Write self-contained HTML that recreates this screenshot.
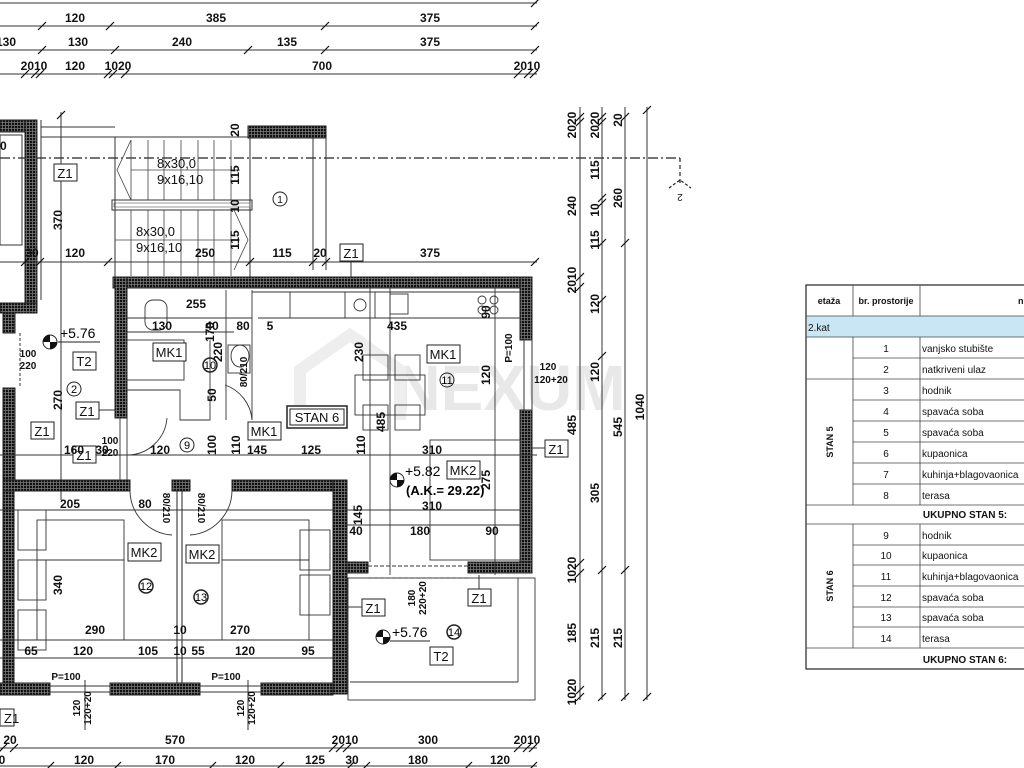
<!DOCTYPE html>
<html><head><meta charset="utf-8"><style>
html,body{margin:0;padding:0;background:#fff;width:1024px;height:768px;overflow:hidden}
svg{display:block}
.d{font-family:"Liberation Sans Narrow","Liberation Sans",sans-serif;font-weight:bold;font-size:12px;fill:#111}
.t{font-family:"Liberation Sans",sans-serif;font-size:13px;fill:#111}
.tb{font-family:"Liberation Sans",sans-serif;font-size:10px;fill:#111}
</style></head><body>
<svg width="1024" height="768" viewBox="0 0 1024 768" xmlns="http://www.w3.org/2000/svg">
<defs>
<pattern id="h" width="3" height="3" patternUnits="userSpaceOnUse">
<rect width="3" height="3" fill="#777"/><rect width="2.2" height="2.2" fill="#111"/>
</pattern>
<g id="tk"><line x1="-4" y1="4" x2="4" y2="-4" stroke="#111" stroke-width="1.2"/></g>
</defs>

<!-- watermark -->
<text x="510" y="410" font-family="Liberation Sans" font-weight="bold" font-size="64" fill="#e8e8e8" text-anchor="middle">NEXUM</text>
<path d="M300 420 L300 370 L350 335 L400 370 L400 420" fill="none" stroke="#eee" stroke-width="12"/>

<!-- top dimension lines -->
<g stroke="#333" stroke-width="1">
<line x1="0" y1="3" x2="537" y2="3"/>
<line x1="0" y1="26" x2="537" y2="26"/>
<line x1="0" y1="50" x2="537" y2="50"/>
<line x1="0" y1="74" x2="537" y2="74"/>
</g>
<use href="#tk" x="535" y="3"/>
<use href="#tk" x="42" y="26"/><use href="#tk" x="110" y="26"/><use href="#tk" x="325" y="26"/><use href="#tk" x="535" y="26"/>
<use href="#tk" x="42" y="50"/><use href="#tk" x="115" y="50"/><use href="#tk" x="248" y="50"/><use href="#tk" x="325" y="50"/><use href="#tk" x="535" y="50"/>
<use href="#tk" x="25" y="74"/><use href="#tk" x="35" y="74"/><use href="#tk" x="40" y="74"/><use href="#tk" x="108" y="74"/><use href="#tk" x="113" y="74"/><use href="#tk" x="125" y="74"/><use href="#tk" x="518" y="74"/><use href="#tk" x="528" y="74"/><use href="#tk" x="534" y="74"/>
<text class="d" x="75" y="22" text-anchor="middle">120</text>
<text class="d" x="216" y="22" text-anchor="middle">385</text>
<text class="d" x="430" y="22" text-anchor="middle">375</text>
<text class="d" x="6" y="46" text-anchor="middle">130</text>
<text class="d" x="78" y="46" text-anchor="middle">130</text>
<text class="d" x="182" y="46" text-anchor="middle">240</text>
<text class="d" x="287" y="46" text-anchor="middle">135</text>
<text class="d" x="430" y="46" text-anchor="middle">375</text>
<text class="d" x="34" y="70" text-anchor="middle">2010</text>
<text class="d" x="75" y="70" text-anchor="middle">120</text>
<text class="d" x="118" y="70" text-anchor="middle">1020</text>
<text class="d" x="322" y="70" text-anchor="middle">700</text>
<text class="d" x="527" y="70" text-anchor="middle">2010</text>

<!-- section line -->
<line x1="0" y1="158" x2="680" y2="158" stroke="#222" stroke-width="1.2" stroke-dasharray="10,3,2,3"/>
<line x1="680" y1="158" x2="680" y2="185" stroke="#222" stroke-width="1.2" stroke-dasharray="4,3"/>
<path d="M669 188 L680 180 L691 188" fill="none" stroke="#222" stroke-width="1.2" stroke-dasharray="3,2"/>
<text class="tb" x="680" y="202" text-anchor="middle" transform="rotate(180 680 198)">2</text>

<!-- left building upper -->
<rect x="0" y="120" width="37" height="12" fill="url(#h)" stroke="#222"/>
<rect x="25" y="120" width="12" height="193" fill="url(#h)" stroke="#222"/>
<rect x="0" y="303" width="37" height="10" fill="url(#h)" stroke="#222"/>
<rect x="3" y="313" width="12" height="20" fill="url(#h)" stroke="#222"/>
<rect x="3" y="388" width="12" height="102" fill="url(#h)" stroke="#222"/>
<rect x="0" y="135" width="22" height="110" fill="none" stroke="#333"/>
<text class="d" x="0" y="150">0</text>
<line x1="37" y1="120" x2="37" y2="300" stroke="#333"/>
<line x1="41" y1="120" x2="41" y2="300" stroke="#333"/>
<line x1="41" y1="127" x2="115" y2="127" stroke="#333"/>
<line x1="41" y1="137" x2="115" y2="137" stroke="#333"/>
<line x1="20" y1="333" x2="20" y2="388" stroke="#333" stroke-dasharray="3,2"/>

<!-- stairs -->
<rect x="248" y="126" width="78" height="12" fill="url(#h)" stroke="#222"/>
<line x1="115" y1="137" x2="250" y2="137" stroke="#333"/>
<line x1="115" y1="137" x2="115" y2="280" stroke="#333"/>
<line x1="250" y1="137" x2="250" y2="280" stroke="#333"/>
<line x1="313" y1="138" x2="313" y2="270" stroke="#333"/>
<line x1="326" y1="138" x2="326" y2="270" stroke="#333"/>
<g stroke="#444" stroke-width="0.8">
<line x1="131" y1="140" x2="131" y2="200"/><line x1="148" y1="140" x2="148" y2="200"/><line x1="164" y1="140" x2="164" y2="200"/><line x1="181" y1="140" x2="181" y2="200"/><line x1="198" y1="140" x2="198" y2="200"/><line x1="214" y1="140" x2="214" y2="200"/><line x1="231" y1="140" x2="231" y2="200"/>
<line x1="131" y1="210" x2="131" y2="276"/><line x1="148" y1="210" x2="148" y2="276"/><line x1="164" y1="210" x2="164" y2="276"/><line x1="181" y1="210" x2="181" y2="276"/><line x1="198" y1="210" x2="198" y2="276"/><line x1="214" y1="210" x2="214" y2="276"/><line x1="231" y1="210" x2="231" y2="276"/>
<line x1="131" y1="170" x2="240" y2="170"/><line x1="115" y1="240" x2="240" y2="240"/>
<path d="M131 140 L117 170 L131 200" fill="none"/>
<path d="M234 210 L248 240 L234 270" fill="none"/>
</g>
<rect x="112" y="200" width="140" height="10" fill="none" stroke="#333"/>
<rect x="114" y="203" width="136" height="4" fill="none" stroke="#555" stroke-width="0.6"/>
<text class="t" x="157" y="168" fill="#333">8x30,0</text>
<text class="t" x="157" y="184">9x16,10</text>
<text class="t" x="136" y="236">8x30,0</text>
<text class="t" x="136" y="252">9x16,10</text>
<circle cx="280" cy="199" r="7" fill="none" stroke="#222"/><text class="tb" x="280" y="203" text-anchor="middle" font-size="11">1</text>
<text class="d" x="239" y="175" transform="rotate(-90 239 175)" text-anchor="middle">115</text>
<text class="d" x="239" y="240" transform="rotate(-90 239 240)" text-anchor="middle">115</text>
<text class="d" x="239" y="130" transform="rotate(-90 239 130)" text-anchor="middle">20</text>
<text class="d" x="239" y="206" transform="rotate(-90 239 206)" text-anchor="middle">10</text>
<line x1="61" y1="112" x2="61" y2="500" stroke="#333"/>
<use href="#tk" x="61" y="115"/>
<text class="d" x="62" y="220" transform="rotate(-90 62 220)" text-anchor="middle">370</text>
<!-- dim line y 262 -->
<line x1="0" y1="262" x2="537" y2="262" stroke="#333"/>
<use href="#tk" x="25" y="262"/><use href="#tk" x="40" y="262"/><use href="#tk" x="108" y="262"/><use href="#tk" x="250" y="262"/><use href="#tk" x="313" y="262"/><use href="#tk" x="326" y="262"/><use href="#tk" x="535" y="262"/>
<text class="d" x="32" y="257" text-anchor="middle">30</text>
<text class="d" x="75" y="257" text-anchor="middle">120</text>
<text class="d" x="205" y="257" text-anchor="middle">250</text>
<text class="d" x="282" y="257" text-anchor="middle">115</text>
<text class="d" x="320" y="257" text-anchor="middle">20</text>
<text class="d" x="430" y="257" text-anchor="middle">375</text>
<rect x="340" y="244" width="23" height="17" fill="#fff" stroke="#222"/><text class="t" x="351" y="258" text-anchor="middle">Z1</text>
<line x1="351" y1="261" x2="351" y2="277" stroke="#333"/>
<rect x="54" y="164" width="23" height="17" fill="#fff" stroke="#222"/><text class="t" x="65" y="178" text-anchor="middle">Z1</text>

<!-- main walls -->
<rect x="113" y="277" width="419" height="11" fill="url(#h)" stroke="#222"/>
<rect x="115" y="277" width="12" height="141" fill="url(#h)" stroke="#222"/>
<rect x="520" y="277" width="12" height="63" fill="url(#h)" stroke="#222"/>
<rect x="520" y="410" width="12" height="163" fill="url(#h)" stroke="#222"/>
<rect x="524" y="340" width="8" height="70" fill="none" stroke="#333"/>
<rect x="345" y="562" width="23" height="11" fill="url(#h)" stroke="#222"/>
<rect x="468" y="562" width="64" height="11" fill="url(#h)" stroke="#222"/>
<rect x="3" y="480" width="127" height="11" fill="url(#h)" stroke="#222"/>
<rect x="172" y="480" width="18" height="11" fill="url(#h)" stroke="#222"/>
<rect x="232" y="480" width="115" height="11" fill="url(#h)" stroke="#222"/>
<rect x="3" y="491" width="11" height="204" fill="url(#h)" stroke="#222"/>
<rect x="333" y="480" width="14" height="214" fill="url(#h)" stroke="#222"/>
<rect x="0" y="683" width="50" height="12" fill="url(#h)" stroke="#222"/>
<rect x="110" y="683" width="90" height="12" fill="url(#h)" stroke="#222"/>
<rect x="261" y="683" width="72" height="12" fill="url(#h)" stroke="#222"/>
<rect x="50" y="686" width="60" height="6" fill="none" stroke="#333"/>
<rect x="200" y="686" width="61" height="6" fill="none" stroke="#333"/>
<line x1="177" y1="491" x2="177" y2="683" stroke="#222"/>
<line x1="182" y1="491" x2="182" y2="683" stroke="#222"/>

<!-- interior lines -->
<g stroke="#333" stroke-width="0.9" fill="none">
<line x1="127" y1="332" x2="234" y2="332"/>
<rect x="127" y="340" width="57" height="40"/>
<path d="M127 390 L180 390 L180 420 L210 420 L210 340"/>
<line x1="226" y1="290" x2="226" y2="420"/>
<line x1="252" y1="290" x2="252" y2="420"/>
<rect x="228" y="345" width="22" height="28"/>
<ellipse cx="240" cy="356" rx="9" ry="11"/>
<path d="M252 420 A40 40 0 0 0 225 385"/>
<line x1="252" y1="292" x2="520" y2="292"/>
<line x1="258" y1="318" x2="520" y2="318"/>
<line x1="290" y1="292" x2="290" y2="318"/><line x1="345" y1="292" x2="345" y2="318"/><line x1="375" y1="292" x2="375" y2="318"/>
<circle cx="360" cy="305" r="6"/>
<rect x="390" y="294" width="18" height="20"/>
<circle cx="482" cy="300" r="4"/><circle cx="494" cy="300" r="4"/><circle cx="482" cy="310" r="4"/><circle cx="494" cy="310" r="4"/>
<rect x="145" y="300" width="22" height="30" rx="8"/>
<rect x="363" y="355" width="25" height="25"/><rect x="395" y="355" width="25" height="25"/>
<rect x="363" y="405" width="25" height="25"/><rect x="395" y="405" width="25" height="25"/>
<rect x="355" y="375" width="70" height="40"/>
<line x1="370" y1="288" x2="370" y2="562"/>
<line x1="390" y1="288" x2="390" y2="575"/>
<line x1="495" y1="288" x2="495" y2="575"/>
<rect x="430" y="440" width="90" height="120"/>
<path d="M127 418 L127 480 M120 418 L120 480"/>
<path d="M127 455 A40 40 0 0 0 167 418"/>
<path d="M130 491 A45 45 0 0 0 172 535"/>
<path d="M232 491 A45 45 0 0 1 190 535"/>
<rect x="18" y="510" width="28" height="40"/><rect x="18" y="560" width="28" height="40"/>
<rect x="37" y="560" width="87" height="80"/>
<rect x="37" y="520" width="87" height="40"/>
<rect x="222" y="560" width="87" height="80"/>
<rect x="222" y="520" width="87" height="40"/>
<rect x="300" y="530" width="30" height="40"/><rect x="300" y="575" width="30" height="40"/>
<rect x="18" y="610" width="28" height="40"/>
<rect x="348" y="578" width="187" height="122"/>
<line x1="350" y1="682" x2="518" y2="682"/>
<line x1="518" y1="578" x2="518" y2="682"/>
<line x1="368" y1="578" x2="468" y2="578" stroke-dasharray="4,2"/>
<line x1="368" y1="566" x2="468" y2="566" stroke-dasharray="4,2"/>
</g>
<line x1="0" y1="455" x2="537" y2="455" stroke="#333"/>
<line x1="0" y1="640" x2="335" y2="640" stroke="#333"/>
<line x1="0" y1="658" x2="335" y2="658" stroke="#333"/>
<line x1="127" y1="318" x2="252" y2="318" stroke="#333"/>
<line x1="345" y1="510" x2="520" y2="510" stroke="#333"/>
<line x1="345" y1="525" x2="520" y2="525" stroke="#333"/>
<line x1="0" y1="510" x2="335" y2="510" stroke="#333"/>

<!-- room labels -->
<g>
<rect x="153" y="343" width="33" height="18" fill="#fff" stroke="#222"/><text class="t" x="169" y="357" text-anchor="middle">MK1</text>
<rect x="427" y="345" width="33" height="18" fill="#fff" stroke="#222"/><text class="t" x="443" y="359" text-anchor="middle">MK1</text>
<rect x="248" y="422" width="33" height="18" fill="#fff" stroke="#222"/><text class="t" x="264" y="436" text-anchor="middle">MK1</text>
<rect x="287" y="406" width="60" height="22" fill="#fff" stroke="#222" stroke-width="1.5"/><rect x="290" y="409" width="54" height="16" fill="none" stroke="#222"/><text class="t" x="317" y="422" text-anchor="middle">STAN 6</text>
<rect x="447" y="461" width="33" height="18" fill="#fff" stroke="#222"/><text class="t" x="463" y="475" text-anchor="middle">MK2</text>
<rect x="128" y="543" width="33" height="18" fill="#fff" stroke="#222"/><text class="t" x="144" y="557" text-anchor="middle">MK2</text>
<rect x="186" y="545" width="33" height="18" fill="#fff" stroke="#222"/><text class="t" x="202" y="559" text-anchor="middle">MK2</text>
<rect x="73" y="352" width="23" height="18" fill="#fff" stroke="#222"/><text class="t" x="84" y="366" text-anchor="middle">T2</text>
<rect x="430" y="647" width="23" height="18" fill="#fff" stroke="#222"/><text class="t" x="441" y="661" text-anchor="middle">T2</text>
<rect x="76" y="402" width="23" height="17" fill="#fff" stroke="#222"/><text class="t" x="87" y="416" text-anchor="middle">Z1</text>
<rect x="31" y="422" width="23" height="17" fill="#fff" stroke="#222"/><text class="t" x="42" y="436" text-anchor="middle">Z1</text>
<rect x="73" y="446" width="23" height="17" fill="#fff" stroke="#222"/><text class="t" x="84" y="460" text-anchor="middle">Z1</text>
<rect x="545" y="440" width="23" height="17" fill="#fff" stroke="#222"/><text class="t" x="556" y="454" text-anchor="middle">Z1</text>
<rect x="362" y="599" width="23" height="17" fill="#fff" stroke="#222"/><text class="t" x="373" y="613" text-anchor="middle">Z1</text>
<rect x="468" y="589" width="23" height="17" fill="#fff" stroke="#222"/><text class="t" x="479" y="603" text-anchor="middle">Z1</text>
<rect x="0" y="709" width="14" height="17" fill="#fff" stroke="#222"/><text class="t" x="4" y="723">Z1</text>
<line x1="532" y1="448" x2="545" y2="448" stroke="#333"/>
<line x1="347" y1="607" x2="362" y2="607" stroke="#333"/>
<line x1="479" y1="575" x2="479" y2="589" stroke="#333"/>
<line x1="99" y1="410" x2="115" y2="410" stroke="#333"/>
</g>
<g font-family="Liberation Sans" font-size="11" text-anchor="middle">
<circle cx="74" cy="389" r="7" fill="none" stroke="#222"/><text x="74" y="393">2</text>
<circle cx="210" cy="365" r="7" fill="none" stroke="#222" stroke-width="1.5"/><text x="210" y="369">10</text>
<circle cx="187" cy="445" r="7" fill="none" stroke="#222"/><text x="187" y="449">9</text>
<circle cx="447" cy="380" r="7" fill="none" stroke="#222"/><text x="447" y="384">11</text>
<circle cx="146" cy="586" r="7" fill="none" stroke="#222" stroke-width="1.5"/><text x="146" y="590">12</text>
<circle cx="201" cy="597" r="7" fill="none" stroke="#222" stroke-width="1.5"/><text x="201" y="601">13</text>
<circle cx="454" cy="632" r="7" fill="none" stroke="#222" stroke-width="1.5"/><text x="454" y="636">14</text>
</g>
<!-- level markers -->
<g>
<circle cx="50" cy="342" r="7" fill="#fff" stroke="#222"/><path d="M50 335 A7 7 0 0 0 43 342 L50 342Z M50 349 A7 7 0 0 0 57 342 L50 342Z" fill="#111"/>
<text x="60" y="338" font-family="Liberation Sans" font-size="14">+5.76</text><line x1="58" y1="342" x2="100" y2="342" stroke="#222"/>
<circle cx="397" cy="480" r="7" fill="#fff" stroke="#222"/><path d="M397 473 A7 7 0 0 0 390 480 L397 480Z M397 487 A7 7 0 0 0 404 480 L397 480Z" fill="#111"/>
<text x="405" y="476" font-family="Liberation Sans" font-size="14">+5.82</text>
<text x="406" y="495" font-family="Liberation Sans" font-weight="bold" font-size="13">(A.K.= 29.22)</text>
<circle cx="383" cy="637" r="7" fill="#fff" stroke="#222"/><path d="M383 630 A7 7 0 0 0 376 637 L383 637Z M383 644 A7 7 0 0 0 390 637 L383 637Z" fill="#111"/>
<text x="392" y="637" font-family="Liberation Sans" font-size="14">+5.76</text><line x1="390" y1="641" x2="430" y2="641" stroke="#222"/>
</g>
<!-- interior dims -->
<g class="d" text-anchor="middle">
<text x="196" y="308">255</text><text x="162" y="330">130</text><text x="212" y="330">40</text><text x="243" y="330">80</text><text x="270" y="330">5</text>
<text x="397" y="330">435</text>
<text x="74" y="454">160</text><text x="102" y="454">30</text><text x="160" y="454">120</text><text x="257" y="454">145</text><text x="311" y="454">125</text><text x="432" y="454">310</text>
<text x="432" y="510">310</text><text x="70" y="508">205</text><text x="145" y="508">80</text>
<text x="420" y="535">180</text><text x="492" y="535">90</text><text x="356" y="535">40</text>
<text x="95" y="634">290</text><text x="240" y="634">270</text><text x="180" y="634">10</text>
<text x="31" y="655">65</text><text x="83" y="655">120</text><text x="148" y="655">105</text><text x="198" y="655">55</text><text x="245" y="655">120</text><text x="308" y="655">95</text><text x="180" y="655">10</text>
<text x="66" y="680" font-size="10">P=100</text><text x="226" y="680" font-size="10">P=100</text>
<text x="110" y="444" font-size="10">100</text><text x="110" y="456" font-size="10">220</text>
<text x="28" y="357" font-size="10">100</text><text x="28" y="369" font-size="10">220</text>
<text x="548" y="370" font-size="10">120</text><text x="551" y="383" font-size="10">120+20</text>
<text x="62" y="400" transform="rotate(-90 62 400)">270</text>
<text x="222" y="352" transform="rotate(-90 222 352)">220</text>
<text x="214" y="332" transform="rotate(-90 214 332)">170</text>
<text x="216" y="395" transform="rotate(-90 216 395)">50</text>
<text x="216" y="445" transform="rotate(-90 216 445)">100</text>
<text x="240" y="445" transform="rotate(-90 240 445)">110</text>
<text x="365" y="445" transform="rotate(-90 365 445)">110</text>
<text x="363" y="352" transform="rotate(-90 363 352)">230</text>
<text x="385" y="422" transform="rotate(-90 385 422)">485</text>
<text x="490" y="375" transform="rotate(-90 490 375)">120</text>
<text x="490" y="312" transform="rotate(-90 490 312)">90</text>
<text x="512" y="348" transform="rotate(-90 512 348)" font-size="10">P=100</text>
<text x="490" y="480" transform="rotate(-90 490 480)">275</text>
<text x="362" y="515" transform="rotate(-90 362 515)">145</text>
<text x="62" y="585" transform="rotate(-90 62 585)">340</text>
<text x="247" y="372" transform="rotate(-90 247 372)" font-size="10">80/210</text>
<text x="163" y="508" transform="rotate(90 163 508)" font-size="10">80/210</text>
<text x="198" y="508" transform="rotate(90 198 508)" font-size="10">80/210</text>
<text x="415" y="598" transform="rotate(-90 415 598)" font-size="10">180</text>
<text x="426" y="598" transform="rotate(-90 426 598)" font-size="10">220+20</text>
<text x="80" y="708" transform="rotate(-90 80 708)" font-size="10">120</text>
<text x="91" y="708" transform="rotate(-90 91 708)" font-size="10">120+20</text>
<text x="244" y="708" transform="rotate(-90 244 708)" font-size="10">120</text>
<text x="255" y="708" transform="rotate(-90 255 708)" font-size="10">120+20</text>
</g>
<line x1="85" y1="680" x2="85" y2="730" stroke="#333"/>
<line x1="248" y1="680" x2="248" y2="730" stroke="#333"/>

<!-- right vertical dims -->
<g stroke="#333">
<line x1="580" y1="107" x2="580" y2="700"/>
<line x1="602" y1="107" x2="602" y2="700"/>
<line x1="625" y1="107" x2="625" y2="700"/>
<line x1="647" y1="107" x2="647" y2="700"/>
</g>
<use href="#tk" x="580" y="117"/><use href="#tk" x="580" y="122"/><use href="#tk" x="580" y="277"/><use href="#tk" x="580" y="287"/><use href="#tk" x="580" y="563"/><use href="#tk" x="580" y="573"/><use href="#tk" x="580" y="690"/><use href="#tk" x="580" y="697"/>
<use href="#tk" x="602" y="117"/><use href="#tk" x="602" y="122"/><use href="#tk" x="602" y="198"/><use href="#tk" x="602" y="203"/><use href="#tk" x="602" y="243"/><use href="#tk" x="602" y="300"/><use href="#tk" x="602" y="356"/><use href="#tk" x="602" y="570"/><use href="#tk" x="602" y="697"/>
<use href="#tk" x="625" y="117"/><use href="#tk" x="625" y="243"/><use href="#tk" x="625" y="570"/><use href="#tk" x="625" y="697"/>
<use href="#tk" x="647" y="110"/><use href="#tk" x="647" y="697"/>
<g class="d" text-anchor="middle">
<text x="576" y="125" transform="rotate(-90 576 125)">2020</text>
<text x="599" y="125" transform="rotate(-90 599 125)">2020</text>
<text x="622" y="120" transform="rotate(-90 622 120)">20</text>
<text x="576" y="206" transform="rotate(-90 576 206)">240</text>
<text x="599" y="170" transform="rotate(-90 599 170)">115</text>
<text x="599" y="210" transform="rotate(-90 599 210)">10</text>
<text x="622" y="198" transform="rotate(-90 622 198)">260</text>
<text x="599" y="240" transform="rotate(-90 599 240)">115</text>
<text x="576" y="280" transform="rotate(-90 576 280)">2010</text>
<text x="599" y="304" transform="rotate(-90 599 304)">120</text>
<text x="599" y="372" transform="rotate(-90 599 372)">120</text>
<text x="576" y="425" transform="rotate(-90 576 425)">485</text>
<text x="622" y="427" transform="rotate(-90 622 427)">545</text>
<text x="644" y="407" transform="rotate(-90 644 407)">1040</text>
<text x="599" y="493" transform="rotate(-90 599 493)">305</text>
<text x="576" y="570" transform="rotate(-90 576 570)">1020</text>
<text x="576" y="633" transform="rotate(-90 576 633)">185</text>
<text x="599" y="638" transform="rotate(-90 599 638)">215</text>
<text x="622" y="638" transform="rotate(-90 622 638)">215</text>
<text x="576" y="692" transform="rotate(-90 576 692)">1020</text>
</g>

<!-- bottom dims -->
<line x1="0" y1="748" x2="537" y2="748" stroke="#333"/>
<line x1="0" y1="766" x2="537" y2="766" stroke="#333"/>
<use href="#tk" x="3" y="748"/><use href="#tk" x="14" y="748"/><use href="#tk" x="333" y="748"/><use href="#tk" x="340" y="748"/><use href="#tk" x="347" y="748"/><use href="#tk" x="518" y="748"/><use href="#tk" x="527" y="748"/><use href="#tk" x="533" y="748"/>
<use href="#tk" x="50" y="766"/><use href="#tk" x="117" y="766"/><use href="#tk" x="212" y="766"/><use href="#tk" x="280" y="766"/><use href="#tk" x="350" y="766"/><use href="#tk" x="366" y="766"/><use href="#tk" x="468" y="766"/><use href="#tk" x="533" y="766"/>
<g class="d" text-anchor="middle">
<text x="10" y="744">20</text><text x="175" y="744">570</text><text x="345" y="744">2010</text><text x="428" y="744">300</text><text x="527" y="744">2010</text>
<text x="84" y="764">120</text><text x="165" y="764">170</text><text x="245" y="764">120</text><text x="315" y="764">125</text><text x="352" y="764">30</text><text x="418" y="764">180</text><text x="500" y="764">120</text><text x="2" y="764">0</text>
</g>

<!-- table -->
<g font-family="Liberation Sans" font-size="10" fill="#111">
<rect x="806" y="285" width="220" height="384" fill="#fff" stroke="#222" stroke-width="1.2"/>
<rect x="807" y="316" width="218" height="21" fill="#c9e6f4"/>
<g stroke="#444" stroke-width="0.8">
<line x1="806" y1="316" x2="1024" y2="316"/>
<line x1="806" y1="337" x2="1024" y2="337"/>
<line x1="853" y1="285" x2="853" y2="316"/>
<line x1="920" y1="285" x2="920" y2="316"/>
<line x1="853" y1="337" x2="853" y2="505"/><line x1="920" y1="337" x2="920" y2="505"/>
<line x1="853" y1="524" x2="853" y2="648"/><line x1="920" y1="524" x2="920" y2="648"/>
<line x1="853" y1="358" x2="1024" y2="358"/>
<line x1="806" y1="379" x2="1024" y2="379"/>
<line x1="853" y1="400" x2="1024" y2="400"/><line x1="853" y1="421" x2="1024" y2="421"/><line x1="853" y1="442" x2="1024" y2="442"/><line x1="853" y1="463" x2="1024" y2="463"/><line x1="853" y1="484" x2="1024" y2="484"/>
<line x1="806" y1="505" x2="1024" y2="505"/>
<line x1="806" y1="524" x2="1024" y2="524"/>
<line x1="853" y1="545" x2="1024" y2="545"/><line x1="853" y1="565" x2="1024" y2="565"/><line x1="853" y1="586" x2="1024" y2="586"/><line x1="853" y1="607" x2="1024" y2="607"/><line x1="853" y1="627" x2="1024" y2="627"/>
<line x1="806" y1="648" x2="1024" y2="648"/>
</g>
<text x="829" y="304" text-anchor="middle" font-weight="bold" font-size="9">etaža</text>
<text x="886" y="304" text-anchor="middle" font-weight="bold" font-size="9">br. prostorije</text>
<text x="1018" y="304" font-weight="bold" font-size="9">n</text>
<text x="808" y="331">2.kat</text>
<g text-anchor="middle">
<text x="886" y="352">1</text><text x="886" y="373">2</text><text x="886" y="394">3</text><text x="886" y="415">4</text><text x="886" y="436">5</text><text x="886" y="457">6</text><text x="886" y="478">7</text><text x="886" y="499">8</text>
<text x="886" y="539">9</text><text x="886" y="559">10</text><text x="886" y="580">11</text><text x="886" y="601">12</text><text x="886" y="621">13</text><text x="886" y="642">14</text>
<text x="965" y="518" font-weight="bold">UKUPNO STAN 5:</text>
<text x="965" y="663" font-weight="bold">UKUPNO STAN 6:</text>
</g>
<text x="922" y="352">vanjsko stubište</text><text x="922" y="373">natkriveni ulaz</text><text x="922" y="394">hodnik</text><text x="922" y="415">spavaća soba</text><text x="922" y="436">spavaća soba</text><text x="922" y="457">kupaonica</text><text x="922" y="478">kuhinja+blagovaonica</text><text x="922" y="499">terasa</text>
<text x="922" y="539">hodnik</text><text x="922" y="559">kupaonica</text><text x="922" y="580">kuhinja+blagovaonica</text><text x="922" y="601">spavaća soba</text><text x="922" y="621">spavaća soba</text><text x="922" y="642">terasa</text>
<text x="833" y="442" transform="rotate(-90 833 442)" text-anchor="middle" font-weight="bold" font-size="9">STAN 5</text>
<text x="833" y="586" transform="rotate(-90 833 586)" text-anchor="middle" font-weight="bold" font-size="9">STAN 6</text>
</g>
</svg>
</body></html>
